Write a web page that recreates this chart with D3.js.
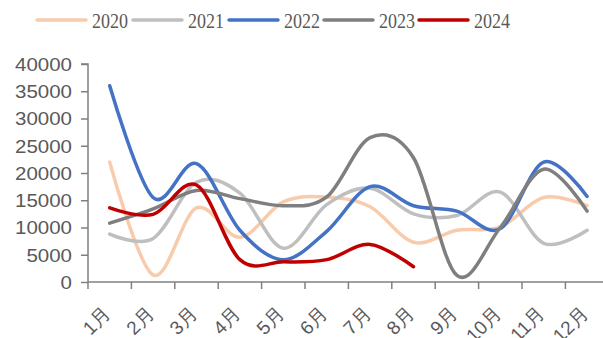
<!DOCTYPE html>
<html><head><meta charset="utf-8">
<script src="https://cdn.jsdelivr.net/npm/d3@7"></script>
<style>body{margin:0;background:#fff}svg{display:block}</style>
</head><body><svg id="c" width="603" height="338"></svg>
<script>
const months = ["1月","2月","3月","4月","5月","6月","7月","8月","9月","10月","11月","12月"];
const yTicks = [0,5000,10000,15000,20000,25000,30000,35000,40000];
const seriesNames = ["2020","2021","2022","2023","2024"];
const colors = ["#F8CBAD","#BFBFBF","#4472C4","#7F7F7F","#C00000"];
const v2020 = [22000,1300,13600,8200,14700,15600,13800,7300,9500,10100,15500,14000];
const v2021 = [8800,8000,18300,16300,6200,14200,17200,12500,12200,16500,7100,9500];
const v2022 = [36000,15500,21700,9500,4100,9300,17500,14000,13000,9800,22000,15700];
const v2023 = [10800,13400,16800,15300,14000,15600,26500,22800,1200,10000,20700,13000];
const v2024 = [13600,12400,17800,4100,3700,4100,6900,2800];
const allValues = [v2020,v2021,v2022,v2023,v2024];

const svg = d3.select("#c");
const x = d3.scaleBand().domain(months).range([88, 88+43.4*12]);
const y = d3.scaleLinear().domain([0,40000]).range([282,64]);

// axes
const yAxis = d3.axisLeft(y).tickValues(yTicks).tickSize(7).tickPadding(9).tickFormat(d3.format("d"));
const gy = svg.append("g").attr("transform","translate(88,0)").call(yAxis);
gy.select(".domain").attr("stroke","#808080").attr("stroke-width",1.5).attr("d","M-7,64H0V282");
gy.selectAll(".tick line").attr("stroke","#808080").attr("stroke-width",1.5);
gy.selectAll("text").attr("fill","#595959").style("font-family","Liberation Sans, Arial, sans-serif").style("font-size","18.5px").attr("dy","0.35em")
  .attr("textLength",d=>String(d).length*11.4).attr("lengthAdjust","spacingAndGlyphs");

const gx = svg.append("g").attr("transform","translate(0,282)");
gx.append("line").attr("x1",88).attr("x2",603).attr("y1",0).attr("y2",0).attr("stroke","#808080").attr("stroke-width",1.5);
gx.selectAll(".tk").data(months).enter().append("line")
  .attr("x1",d=>x(d)).attr("x2",d=>x(d)).attr("y1",0).attr("y2",7)
  .attr("stroke","#808080").attr("stroke-width",1.5);
gx.selectAll(".lb").data(months).enter().append("text")
  .attr("transform",d=>`translate(${x(d)+x.bandwidth()/2+2},${33}) rotate(-45)`)
  .attr("text-anchor","end")
  .attr("fill","#595959")
  .style("font-family","Liberation Sans, Arial, sans-serif").style("font-size","19px")
  .text(d=>d);

// lines
const line = d3.line()
  .x((d,i)=>x(months[i])+x.bandwidth()/2)
  .y(d=>y(d))
  .curve(d3.curveCardinal.tension(0));
allValues.forEach((vals,k)=>{
  svg.append("path").datum(vals).attr("d",line)
    .attr("fill","none").attr("stroke",colors[k]).attr("stroke-width",3.5)
    .attr("stroke-linecap","round").attr("stroke-linejoin","round");
});

// legend
const legX = [37,133,229,324,419];
const lg = svg.append("g");
seriesNames.forEach((n,k)=>{
  lg.append("line").attr("x1",legX[k]).attr("x2",legX[k]+49).attr("y1",20).attr("y2",20)
    .attr("stroke",colors[k]).attr("stroke-width",3.5).attr("stroke-linecap","round");
  lg.append("text").attr("x",legX[k]+55).attr("y",28).text(n)
    .attr("textLength",36).attr("lengthAdjust","spacingAndGlyphs")
    .attr("fill","#595959").style("font-family","Liberation Serif, Times New Roman, serif").style("font-size","22px");
});
</script></body></html>
